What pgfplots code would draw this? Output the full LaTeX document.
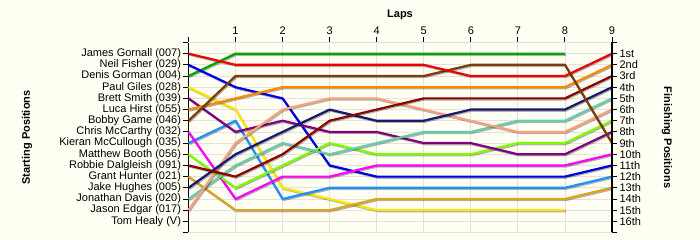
\documentclass[border=0pt]{standalone}
\usepackage{pgfplots}
\pgfplotsset{compat=1.18}
\usepackage{fontspec}
\setmainfont{Liberation Sans}
\definecolor{bgc}{RGB}{255,255,243}
\definecolor{gridc}{RGB}{226,226,222}
\definecolor{cRed}{RGB}{240,0,0}
\definecolor{cBlue}{RGB}{0,0,230}
\definecolor{cGreen}{RGB}{0,165,0}
\definecolor{cYellow}{RGB}{255,230,0}
\definecolor{cPurple}{RGB}{128,0,128}
\definecolor{cOrange}{RGB}{255,136,0}
\definecolor{cBrown}{RGB}{120,62,5}
\definecolor{cMagenta}{RGB}{255,0,255}
\definecolor{cDodger}{RGB}{30,144,255}
\definecolor{cLime}{RGB}{124,252,0}
\definecolor{cMaroon}{RGB}{139,0,0}
\definecolor{cGold}{RGB}{218,165,32}
\definecolor{cNavy}{RGB}{25,25,112}
\definecolor{cTeal}{RGB}{102,205,170}
\definecolor{cSalmon}{RGB}{250,160,122}
\tikzset{shadowed/.style={line width=2.2pt, line join=round,
  preaction={draw=black, draw opacity=0.3, transform canvas={xshift=0.9pt,yshift=-1.1pt}}}}
\begin{document}
\begin{tikzpicture}
\fill[bgc] (-188.5pt,-7.5pt) rectangle (511.5pt,232.5pt);
\begin{axis}[
  at={(0pt,0pt)}, anchor=south west,
  scale only axis, width=423.5pt, height=190pt,
  xmin=0, xmax=9, ymin=0, ymax=17,
  y filter/.expression={17-y},
  axis x line*=top, axis y line*=left,
  axis line style={line width=1.1pt},
  xtick={0,...,9}, xticklabels={,1,2,3,4,5,6,7,8,9},
  ytick={1,...,16},
  yticklabels={Tom Healy (V),Jason Edgar (017),Jonathan Davis (020),Jake Hughes (005),Grant Hunter (021),Robbie Dalgleish (091),Matthew Booth (056),Kieran McCullough (035),Chris McCarthy (032),Bobby Game (046),Luca Hirst (055),Brett Smith (039),Paul Giles (028),Denis Gorman (004),Neil Fisher (029),James Gornall (007)},
  extra y ticks={0,17}, extra y tick labels={,},
  extra y tick style={grid=major},
  tick align=outside, major tick length=5pt,
  tick style={black, line width=0.9pt},
  grid=major, grid style={gridc, line width=0.8pt},
  ticklabel style={font=\fontsize{11}{13}\selectfont},
  /pgf/number format/assume math mode=true,
  yticklabel style={xshift=1pt},
  xticklabel style={yshift=-1pt},
  clip=false,
]
\addplot[cGreen, shadowed] coordinates {(0,3)(1,1)(2,1)(3,1)(4,1)(5,1)(6,1)(7,1)(8,1)};
\addplot[cYellow, shadowed] coordinates {(0,4)(1,6)(2,13)(3,14)(4,15)(5,15)(6,15)(7,15)(8,15)};
\addplot[cGold, shadowed] coordinates {(0,12)(1,15)(2,15)(3,15)(4,14)(5,14)(6,14)(7,14)(8,14)(9,13)};
\addplot[cDodger, shadowed] coordinates {(0,9)(1,7)(2,14)(3,13)(4,13)(5,13)(6,13)(7,13)(8,13)(9,12)};
\addplot[cBlue, shadowed] coordinates {(0,2)(1,4)(2,5)(3,11)(4,12)(5,12)(6,12)(7,12)(8,12)(9,11)};
\addplot[cMagenta, shadowed] coordinates {(0,8)(1,14)(2,12)(3,12)(4,11)(5,11)(6,11)(7,11)(8,11)(9,10)};
\addplot[cLime, shadowed] coordinates {(0,10)(1,13)(2,11)(3,9)(4,10)(5,10)(6,10)(7,9)(8,9)(9,7)};
\addplot[cPurple, shadowed] coordinates {(0,5)(1,8)(2,7)(3,8)(4,8)(5,9)(6,9)(7,10)(8,10)(9,8)};
\addplot[cTeal, shadowed] coordinates {(0,14)(1,11)(2,9)(3,10)(4,9)(5,8)(6,8)(7,7)(8,7)(9,5)};
\addplot[cSalmon, shadowed] coordinates {(0,15)(1,9)(2,6)(3,5)(4,5)(5,6)(6,7)(7,8)(8,8)(9,6)};
\addplot[cNavy, shadowed] coordinates {(0,13)(1,10)(2,8)(3,6)(4,7)(5,7)(6,6)(7,6)(8,6)(9,4)};
\addplot[cMaroon, shadowed] coordinates {(0,11)(1,12)(2,10)(3,7)(4,6)(5,5)(6,5)(7,5)(8,5)(9,3)};
\addplot[cOrange, shadowed] coordinates {(0,6)(1,5)(2,4)(3,4)(4,4)(5,4)(6,4)(7,4)(8,4)(9,2)};
\addplot[cBrown, shadowed] coordinates {(0,7)(1,3)(2,3)(3,3)(4,3)(5,3)(6,2)(7,2)(8,2)(9,9)};
\addplot[cRed, shadowed] coordinates {(0,1)(1,2)(2,2)(3,2)(4,2)(5,2)(6,3)(7,3)(8,3)(9,1)};
\end{axis}
\begin{axis}[
  at={(0pt,0pt)}, anchor=south west,
  scale only axis, width=423.5pt, height=190pt,
  xmin=0, xmax=9, ymin=0, ymax=17,
  axis y line*=right, axis x line=none,
  axis line style={line width=1.1pt},
  ytick={1,...,16},
  yticklabels={16th,15th,14th,13th,12th,11th,10th,9th,8th,7th,6th,5th,4th,3rd,2nd,1st},
  extra y ticks={0,17}, extra y tick labels={,},
  tick align=outside, major tick length=5pt,
  tick style={black, line width=0.9pt},
  ticklabel style={font=\fontsize{11}{13}\selectfont},
  yticklabel style={xshift=-1pt},
]
\end{axis}
\node[font=\bfseries\fontsize{11}{13}\selectfont] at (211.5pt,218pt) {Laps};
\node[font=\bfseries\fontsize{11}{13}\selectfont, rotate=90] at (-161.5pt,95pt) {Starting Positions};
\node[font=\bfseries\fontsize{11}{13}\selectfont, rotate=-90] at (478.5pt,95pt) {Finishing Positions};
\end{tikzpicture}
\end{document}
